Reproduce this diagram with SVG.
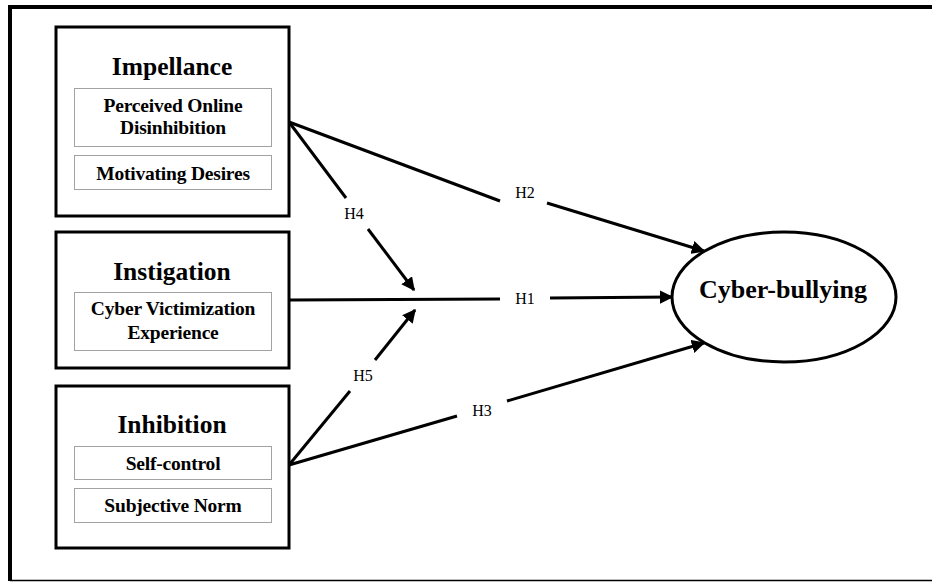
<svg xmlns="http://www.w3.org/2000/svg" width="932" height="582" viewBox="0 0 932 582">
<style>
.box{fill:#fff;stroke:#000;stroke-width:3}
.dot{fill:#fff;stroke:#444;stroke-width:1;stroke-dasharray:1 1}
.title{font-family:"Liberation Serif",serif;font-weight:bold;font-size:25.5px;text-anchor:middle}
.sub{font-family:"Liberation Serif",serif;font-weight:bold;font-size:19.5px;text-anchor:middle;letter-spacing:-0.2px}
.lbl{font-family:"Liberation Serif",serif;font-size:16px;text-anchor:middle}
.ln{stroke:#000;stroke-width:3;fill:none}
</style>
<defs>
<marker id="ah" viewBox="0 0 10 10" refX="9" refY="5" markerWidth="4.5" markerHeight="4.5" markerUnits="strokeWidth" orient="auto">
<path d="M0,0 L10,5 L0,10 z" fill="#000"/>
</marker>
</defs>
<rect width="932" height="582" fill="#fff"/>
<g id="frame">
<line x1="10" y1="7" x2="932" y2="7" stroke="#000" stroke-width="4"/>
<line x1="10" y1="5" x2="10" y2="581" stroke="#000" stroke-width="4"/>
<line x1="10" y1="580.5" x2="932" y2="580.5" stroke="#000" stroke-width="1.5"/>
</g>
<g id="connectors">
<line class="ln" x1="289" y1="122" x2="500" y2="201"/>
<line class="ln" x1="547" y1="203" x2="704" y2="251" marker-end="url(#ah)"/>
<line class="ln" x1="289" y1="122" x2="346" y2="198"/>
<line class="ln" x1="368" y1="229" x2="414" y2="290" marker-end="url(#ah)"/>
<line class="ln" x1="289" y1="300" x2="500" y2="299"/>
<line class="ln" x1="550" y1="298" x2="672" y2="297" marker-end="url(#ah)"/>
<line class="ln" x1="289" y1="465" x2="350" y2="391"/>
<line class="ln" x1="375" y1="360" x2="415" y2="310" marker-end="url(#ah)"/>
<line class="ln" x1="289" y1="465" x2="457" y2="416"/>
<line class="ln" x1="507" y1="401" x2="704" y2="343" marker-end="url(#ah)"/>
<text class="lbl" x="525" y="198">H2</text>
<text class="lbl" x="354" y="219">H4</text>
<text class="lbl" x="525" y="304">H1</text>
<text class="lbl" x="363" y="381">H5</text>
<text class="lbl" x="482" y="416">H3</text>
</g>
<g id="impellance">
<rect class="box" x="56" y="27" width="233" height="189"/>
<text class="title" x="172" y="75">Impellance</text>
<rect class="dot" x="74.5" y="88.5" width="197" height="58"/>
<text class="sub" x="173" y="112">Perceived Online</text>
<text class="sub" x="173" y="134">Disinhibition</text>
<rect class="dot" x="74.5" y="155.5" width="197" height="34"/>
<text class="sub" x="173" y="180">Motivating Desires</text>
</g>
<g id="instigation">
<rect class="box" x="56" y="232" width="233" height="136"/>
<text class="title" x="172" y="280">Instigation</text>
<rect class="dot" x="74.5" y="292.5" width="197" height="58"/>
<text class="sub" x="173" y="315">Cyber Victimization</text>
<text class="sub" x="173" y="339">Experience</text>
</g>
<g id="inhibition">
<rect class="box" x="56" y="386" width="233" height="162"/>
<text class="title" x="172" y="433">Inhibition</text>
<rect class="dot" x="74.5" y="446.5" width="197" height="33"/>
<text class="sub" x="173" y="470">Self-control</text>
<rect class="dot" x="74.5" y="488.5" width="197" height="34"/>
<text class="sub" x="173" y="512">Subjective Norm</text>
</g>
<g id="cyberbullying">
<ellipse cx="784" cy="297" rx="112" ry="65" fill="#fff" stroke="#000" stroke-width="3"/>
<text class="title" x="783" y="298" style="font-size:26px">Cyber-bullying</text>
</g>
</svg>
